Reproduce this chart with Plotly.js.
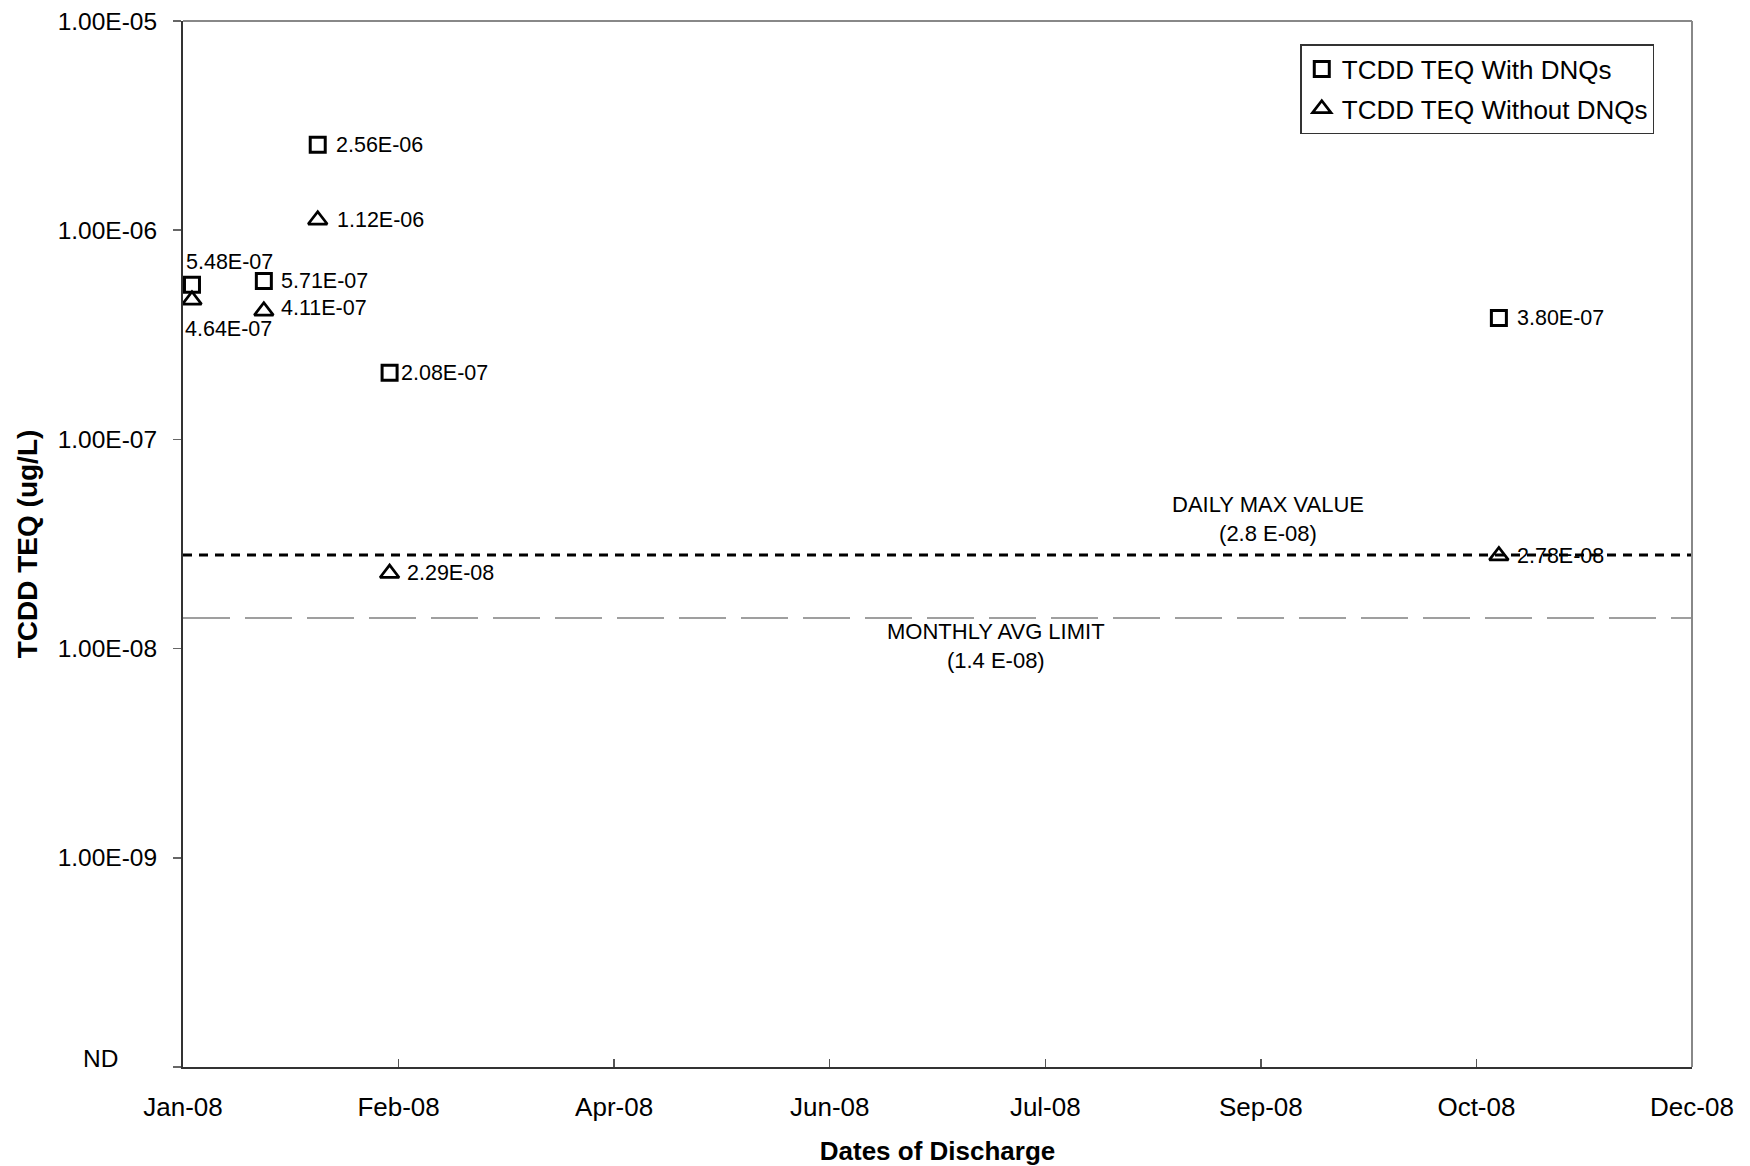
<!DOCTYPE html>
<html>
<head>
<meta charset="utf-8">
<script src="https://cdn.plot.ly/plotly-3.0.1.min.js"></script>
<style>html,body{margin:0;padding:0;background:#fff;}#chart{width:1750px;height:1166px;}</style>
</head>
<body>
<div id="chart"></div>
<script>
// ---- data ----
const sampleDates = ['2008-01-12', '2008-01-28', '2008-02-09', '2008-02-25', '2008-10-29'];
const withDNQs = [5.48e-7, 5.71e-7, 2.56e-6, 2.08e-7, 3.80e-7];
const withoutDNQs = [4.64e-7, 4.11e-7, 1.12e-6, 2.29e-8, 2.78e-8];
const seriesNames = ['TCDD TEQ With DNQs', 'TCDD TEQ Without DNQs'];
const dailyMax = 2.8e-8;
const monthlyAvg = 1.4e-8;
const limitLabels = ['DAILY MAX VALUE<br>(2.8 E-08)', 'MONTHLY AVG LIMIT<br>(1.4 E-08)'];
const xTickDates = ['2008-01-10', '2008-02-27', '2008-04-15', '2008-06-02', '2008-07-20', '2008-09-06', '2008-10-24', '2008-12-11'];
const xTickLabels = ['Jan-08', 'Feb-08', 'Apr-08', 'Jun-08', 'Jul-08', 'Sep-08', 'Oct-08', 'Dec-08'];
const yTickVals = [1e-10, 1e-9, 1e-8, 1e-7, 1e-6, 1e-5];
const yTickLabels = ['', '1.00E-09', '1.00E-08', '1.00E-07', '1.00E-06', '1.00E-05'];
const ndLabel = 'ND';

// ---- label styling (pixel offsets) ----
const offWith = [[-8, 23], [15, 0], [16, 0], [9, 0], [16, 0]];
const offWithout = [[-9, -29], [15, 3], [17, 0], [15, 0], [16, 0]];

const FONT = 'Arial, "Liberation Sans", sans-serif';

function fmt(v) {
  const s = v.toExponential(2).toUpperCase();
  const m = s.match(/^([\d.]+)E([+-])(\d+)$/);
  const e = m[3].length < 2 ? '0' + m[3] : m[3];
  return m[1] + 'E' + m[2] + e;
}

const traces = [
  {
    x: [xTickDates[0], xTickDates[xTickDates.length - 1]], y: [dailyMax, dailyMax],
    type: 'scatter', mode: 'lines', showlegend: false, hoverinfo: 'skip',
    line: {color: '#000', width: 3, dash: '9px,7px'}
  },
  {
    x: [xTickDates[0], xTickDates[xTickDates.length - 1]], y: [monthlyAvg, monthlyAvg],
    type: 'scatter', mode: 'lines', showlegend: false, hoverinfo: 'skip',
    line: {color: '#808080', width: 1.5, dash: '47px,15px'}
  },
  {
    x: sampleDates, y: withDNQs, name: seriesNames[0], type: 'scatter', mode: 'markers',
    marker: {symbol: 'square-open', size: 15, color: '#000', line: {width: 3, color: '#000'}},
    legendgroup: 'a', cliponaxis: false
  },
  {
    x: sampleDates, y: withoutDNQs, name: seriesNames[1], type: 'scatter', mode: 'markers',
    marker: {symbol: 'triangle-up-open', size: 16.5, color: '#000', line: {width: 2.7, color: '#000'}},
    legendgroup: 'b', cliponaxis: false
  }
];

const annotations = [];
function addLabels(vals, offs) {
  vals.forEach((v, i) => {
    annotations.push({
      x: sampleDates[i], y: Math.log10(v), xref: 'x', yref: 'y', text: fmt(v),
      showarrow: false, xanchor: 'left', yanchor: 'middle',
      xshift: offs[i][0], yshift: offs[i][1],
      font: {family: FONT, size: 21.5, color: '#000'}
    });
  });
}
addLabels(withDNQs, offWith);
addLabels(withoutDNQs, offWithout);
annotations.push({
  x: 0.719, xref: 'paper', y: Math.log10(dailyMax), yref: 'y', text: limitLabels[0],
  showarrow: false, xanchor: 'center', yanchor: 'bottom', yshift: 7,
  font: {family: FONT, size: 22, color: '#000'}
});
annotations.push({
  x: 0.539, xref: 'paper', y: Math.log10(monthlyAvg), yref: 'y', text: limitLabels[1],
  showarrow: false, xanchor: 'center', yanchor: 'top', yshift: 1,
  font: {family: FONT, size: 22, color: '#000'}
});
// "ND" label for the bottom of the log axis
annotations.push({
  x: -0.0547, xref: 'paper', y: Math.log10(yTickVals[0]), yref: 'y', text: ndLabel,
  showarrow: false, xanchor: 'center', yanchor: 'middle', yshift: 9,
  font: {family: FONT, size: 24.5, color: '#000'}
});

const layout = {
  width: 1750, height: 1166,
  margin: {l: 183, r: 58, t: 21, b: 99},
  paper_bgcolor: '#fff', plot_bgcolor: '#fff',
  font: {family: FONT, color: '#000', size: 26},
  showlegend: true,
  legend: {
    x: 0.975, xanchor: 'right', y: 0.978, yanchor: 'top',
    bgcolor: '#fff', bordercolor: '#333', borderwidth: 1.5,
    font: {family: FONT, size: 26, color: '#000'},
    traceorder: 'grouped', tracegroupgap: 3, itemwidth: 30
  },
  xaxis: {
    type: 'date',
    range: [xTickDates[0], xTickDates[xTickDates.length - 1]],
    tickmode: 'array', tickvals: xTickDates, ticktext: xTickLabels,
    ticks: 'inside', ticklen: 8, tickwidth: 1.5, tickcolor: '#555',
    showline: true, linecolor: '#333', linewidth: 2, mirror: false,
    showgrid: false, zeroline: false,
    tickfont: {family: FONT, size: 26, color: '#000'},
    ticklabelstandoff: 16,
    title: {text: '<b>Dates of Discharge</b>', font: {family: FONT, size: 26, color: '#000'}, standoff: 22},
    fixedrange: true
  },
  yaxis: {
    type: 'log', range: [-10, -5],
    tickmode: 'array', tickvals: yTickVals, ticktext: yTickLabels,
    ticks: 'outside', ticklen: 8, tickwidth: 1.5, tickcolor: '#666',
    showline: true, linecolor: '#333', linewidth: 2, mirror: false,
    showgrid: false, zeroline: false,
    tickfont: {family: FONT, size: 24.5, color: '#000'},
    ticklabelstandoff: 11,
    title: {text: '<b>TCDD TEQ (ug/L)</b>', font: {family: FONT, size: 28, color: '#000'}, standoff: 12},
    fixedrange: true
  },
  shapes: [
    {type: 'line', xref: 'paper', yref: 'paper', x0: 0, x1: 1, y0: 1, y1: 1, line: {color: '#888', width: 2}},
    {type: 'line', xref: 'paper', yref: 'paper', x0: 1, x1: 1, y0: 0, y1: 1, line: {color: '#888', width: 2}}
  ],
  annotations: annotations
};

Plotly.newPlot('chart', traces, layout, {displayModeBar: false, staticPlot: true});
</script>
</body>
</html>
